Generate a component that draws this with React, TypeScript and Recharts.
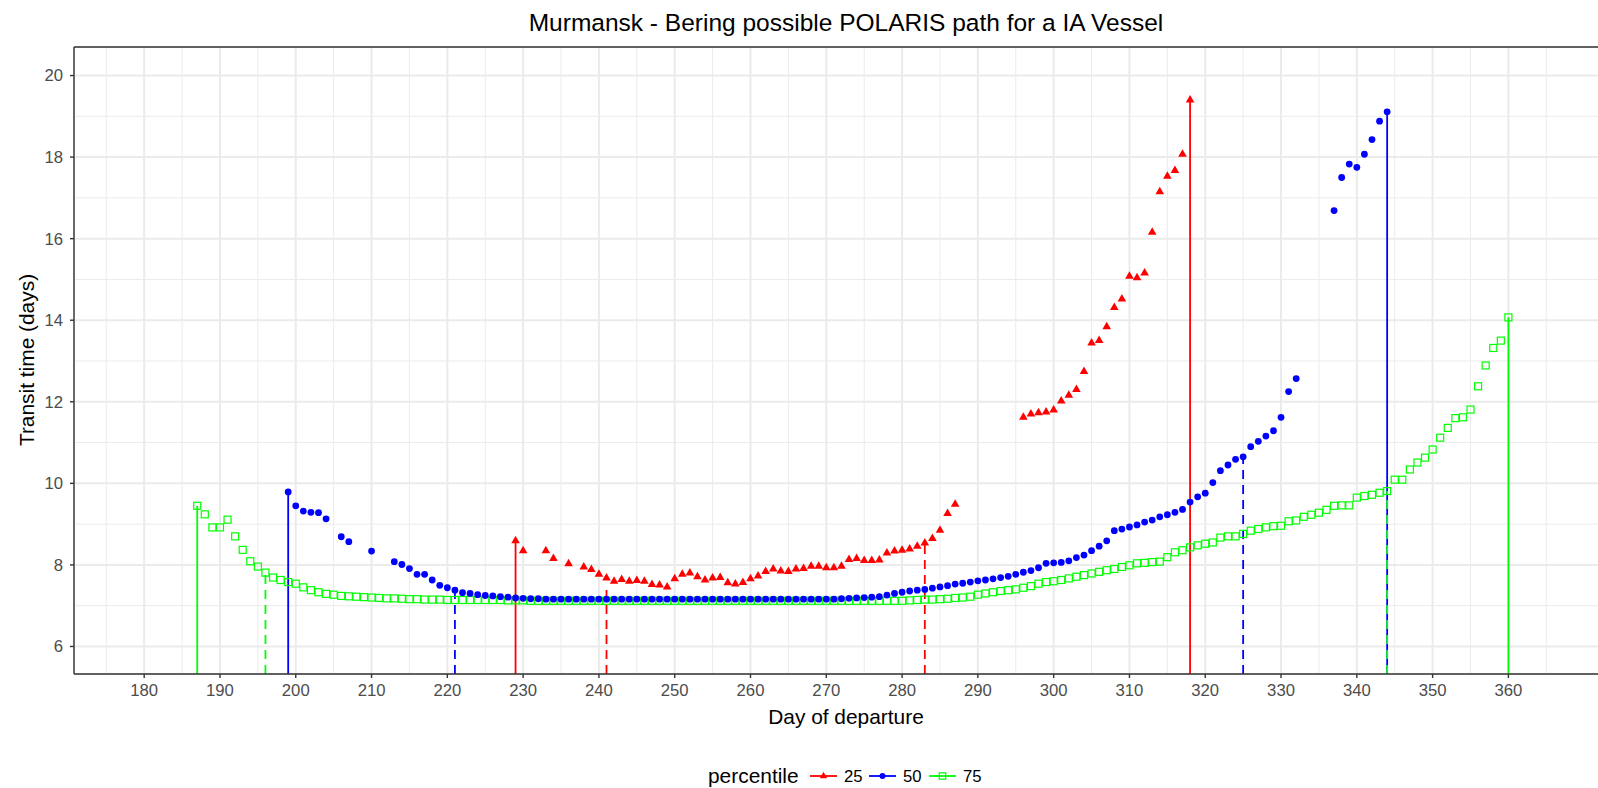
import React from 'react'
import { ScatterChart, Scatter, XAxis, YAxis, CartesianGrid, ReferenceLine } from 'recharts'

const FONT = '"Liberation Sans", Arial, sans-serif'

// axis ranges and breaks
const X_MIN = 170.74
const X_MAX = 374.46
const Y_MIN = 5.325
const Y_MAX = 20.7
const X_TICKS = [180, 190, 200, 210, 220, 230, 240, 250, 260, 270, 280, 290, 300, 310, 320, 330, 340, 350, 360]
const X_MINOR = [175, 185, 195, 205, 215, 225, 235, 245, 255, 265, 275, 285, 295, 305, 315, 325, 335, 345, 355, 365]
const Y_TICKS = [6, 8, 10, 12, 14, 16, 18, 20]
const Y_MINOR = [7, 9, 11, 13, 15, 17, 19]

// percentile 25 (red)
const P25_DAYS = [
  229, 230, 233, 234, 236, 238, 239, 240, 241, 242,
  243, 244, 245, 246, 247, 248, 249, 250, 251, 252,
  253, 254, 255, 256, 257, 258, 259, 260, 261, 262,
  263, 264, 265, 266, 267, 268, 269, 270, 271, 272,
  273, 274, 275, 276, 277, 278, 279, 280, 281, 282,
  283, 284, 285, 286, 287,
  296, 297, 298, 299, 300, 301, 302, 303, 304, 305,
  306, 307, 308, 309, 310, 311, 312, 313, 314, 315,
  316, 317, 318,
]
const P25_TIME = [
  8.59, 8.35, 8.35, 8.16, 8.03, 7.95, 7.89, 7.77, 7.68, 7.60,
  7.64, 7.60, 7.62, 7.60, 7.52, 7.51, 7.46, 7.66, 7.77, 7.80,
  7.71, 7.63, 7.68, 7.69, 7.56, 7.53, 7.57, 7.66, 7.73, 7.84,
  7.90, 7.85, 7.84, 7.90, 7.91, 7.97, 7.97, 7.93, 7.93, 7.97,
  8.13, 8.16, 8.11, 8.11, 8.12, 8.29, 8.34, 8.36, 8.39, 8.46,
  8.54, 8.65, 8.85, 9.26, 9.49,
  11.62, 11.70, 11.73, 11.75, 11.80, 12.02, 12.16, 12.30, 12.74, 13.44,
  13.50, 13.84, 14.31, 14.52, 15.08, 15.04, 15.16, 16.16, 17.15, 17.53,
  17.67, 18.07, 19.40,
]

// percentile 50 (blue)
const P50_DAYS = [
  199, 200, 201, 202, 203, 204, 206, 207, 210,
  213, 214, 215, 216, 217, 218, 219, 220, 221, 222,
  223, 224, 225, 226, 227, 228, 229, 230, 231, 232,
  233, 234, 235, 236, 237, 238, 239, 240, 241, 242,
  243, 244, 245, 246, 247, 248, 249, 250, 251, 252,
  253, 254, 255, 256, 257, 258, 259, 260, 261, 262,
  263, 264, 265, 266, 267, 268, 269, 270, 271, 272,
  273, 274, 275, 276, 277, 278, 279, 280, 281, 282,
  283, 284, 285, 286, 287, 288, 289, 290, 291, 292,
  293, 294, 295, 296, 297, 298, 299, 300, 301, 302,
  303, 304, 305, 306, 307, 308, 309, 310, 311, 312,
  313, 314, 315, 316, 317, 318, 319, 320, 321, 322,
  323, 324, 325, 326, 327, 328, 329, 330, 331, 332,
  337, 338, 339, 340, 341, 342, 343, 344,
]
const P50_TIME = [
  9.79, 9.45, 9.32, 9.29, 9.28, 9.13, 8.69, 8.57, 8.34,
  8.08, 8.01, 7.91, 7.77, 7.77, 7.63, 7.50, 7.44, 7.38, 7.32,
  7.30, 7.27, 7.25, 7.24, 7.22, 7.21, 7.19, 7.18, 7.17, 7.17,
  7.16, 7.16, 7.16, 7.16, 7.16, 7.16, 7.16, 7.16, 7.16, 7.16,
  7.16, 7.16, 7.16, 7.16, 7.16, 7.16, 7.16, 7.16, 7.16, 7.16,
  7.16, 7.16, 7.16, 7.16, 7.16, 7.16, 7.16, 7.16, 7.16, 7.16,
  7.16, 7.16, 7.16, 7.16, 7.16, 7.16, 7.16, 7.16, 7.16, 7.17,
  7.18, 7.19, 7.20, 7.21, 7.22, 7.26, 7.30, 7.33, 7.36, 7.38,
  7.40, 7.43, 7.46, 7.49, 7.53, 7.55, 7.58, 7.61, 7.63, 7.66,
  7.69, 7.72, 7.77, 7.82, 7.86, 7.93, 8.04, 8.05, 8.06, 8.10,
  8.18, 8.24, 8.35, 8.46, 8.59, 8.84, 8.88, 8.93, 8.98, 9.05,
  9.10, 9.18, 9.23, 9.29, 9.36, 9.54, 9.67, 9.76, 10.02, 10.31,
  10.45, 10.59, 10.65, 10.90, 11.03, 11.16, 11.29, 11.62, 12.25, 12.57,
  16.69, 17.50, 17.83, 17.75, 18.07, 18.43, 18.88, 19.11,
]

// percentile 75 (green)
const P75_DAYS = [
  187, 188, 189, 190, 191, 192, 193, 194, 195, 196,
  197, 198, 199, 200, 201, 202, 203, 204, 205, 206,
  207, 208, 209, 210, 211, 212, 213, 214, 215, 216,
  217, 218, 219, 220, 221, 222, 223, 224, 225, 226,
  227, 228, 229, 230, 231, 232, 233, 234, 235, 236,
  237, 238, 239, 240, 241, 242, 243, 244, 245, 246,
  247, 248, 249, 250, 251, 252, 253, 254, 255, 256,
  257, 258, 259, 260, 261, 262, 263, 264, 265, 266,
  267, 268, 269, 270, 271, 272, 273, 274, 275, 276,
  277, 278, 279, 280, 281, 282, 283, 284, 285, 286,
  287, 288, 289, 290, 291, 292, 293, 294, 295, 296,
  297, 298, 299, 300, 301, 302, 303, 304, 305, 306,
  307, 308, 309, 310, 311, 312, 313, 314, 315, 316,
  317, 318, 319, 320, 321, 322, 323, 324, 325, 326,
  327, 328, 329, 330, 331, 332, 333, 334, 335, 336,
  337, 338, 339, 340, 341, 342, 343, 344, 345, 346,
  347, 348, 349, 350, 351, 352, 353, 354, 355, 356,
  357, 358, 359, 360,
]
const P75_TIME = [
  9.45, 9.24, 8.92, 8.92, 9.11, 8.70, 8.37, 8.09, 7.96, 7.81,
  7.69, 7.63, 7.58, 7.54, 7.45, 7.38, 7.33, 7.29, 7.27, 7.24,
  7.23, 7.22, 7.21, 7.20, 7.19, 7.18, 7.18, 7.17, 7.16, 7.16,
  7.15, 7.15, 7.15, 7.14, 7.14, 7.14, 7.14, 7.14, 7.14, 7.14,
  7.14, 7.13, 7.13, 7.13, 7.12, 7.12, 7.12, 7.12, 7.12, 7.12,
  7.12, 7.12, 7.12, 7.12, 7.12, 7.12, 7.12, 7.12, 7.12, 7.12,
  7.12, 7.12, 7.12, 7.12, 7.12, 7.12, 7.12, 7.12, 7.12, 7.12,
  7.12, 7.12, 7.12, 7.12, 7.12, 7.12, 7.12, 7.12, 7.12, 7.12,
  7.12, 7.12, 7.12, 7.12, 7.12, 7.12, 7.12, 7.12, 7.12, 7.12,
  7.12, 7.12, 7.12, 7.12, 7.13, 7.14, 7.15, 7.15, 7.16, 7.17,
  7.19, 7.20, 7.22, 7.27, 7.30, 7.33, 7.36, 7.38, 7.40, 7.44,
  7.48, 7.54, 7.58, 7.60, 7.63, 7.67, 7.71, 7.75, 7.79, 7.83,
  7.87, 7.90, 7.95, 7.99, 8.04, 8.05, 8.07, 8.08, 8.19, 8.31,
  8.36, 8.43, 8.48, 8.52, 8.55, 8.67, 8.70, 8.70, 8.76, 8.84,
  8.88, 8.92, 8.95, 8.96, 9.07, 9.09, 9.18, 9.23, 9.28, 9.35,
  9.45, 9.46, 9.46, 9.65, 9.69, 9.72, 9.77, 9.81, 10.09, 10.09,
  10.34, 10.51, 10.63, 10.83, 11.12, 11.36, 11.60, 11.62, 11.81, 12.38,
  12.89, 13.32, 13.50, 14.07,
]

// vertical markers per percentile: day, height reached, dashed or not
const V25_DAYS = [229, 241, 283, 318]
const V25_TOP = [8.59, 7.42, 8.54, 19.4]
const V50_DAYS = [199, 221, 325, 344]
const V50_TOP = [9.79, 7.38, 10.65, 19.11]
const V75_DAYS = [187, 196, 344, 360]
const V75_TOP = [9.45, 7.81, 9.81, 14.07]
const V_DASHED = [false, true, true, false]

const RED = '#ff0000'
const BLUE = '#0000ff'
const GREEN = '#00ff00'

const toPoints = (days: number[], vals: number[]) => days.map((d, i) => ({ day: d, time: vals[i] }))

// recharts scales may be plain d3 functions or wrapped objects with map()
const applyScale = (axis: any, v: number) => {
  const s = axis?.scale
  if (typeof s === 'function') return s(v)
  if (s && typeof s.map === 'function') return s.map(v)
  return undefined
}

const TriangleMark = ({ cx, cy, k = 1 }: any) => (
  <path
    d={`M${cx},${cy - 5 * k}L${cx + 4.3 * k},${cy + 2.5 * k}L${cx - 4.3 * k},${cy + 2.5 * k}Z`}
    fill={RED}
  />
)
const CircleMark = ({ cx, cy, r = 3.4 }: any) => <circle cx={cx} cy={cy} r={r} fill={BLUE} />
const SquareMark = ({ cx, cy, s = 7 }: any) => (
  <rect x={cx - s / 2} y={cy - s / 2} width={s} height={s} fill="none" stroke={GREEN} strokeWidth={1.2} />
)

const vlines = (days: number[], tops: number[], color: string, key: string) =>
  days.map((d, i) => (
    <ReferenceLine
      key={key + d}
      segment={[{ x: d, y: Y_MIN }, { x: d, y: tops[i] }]}
      stroke={color}
      strokeWidth={1.8}
      strokeDasharray={V_DASHED[i] ? '9 6' : undefined}
      ifOverflow="visible"
    />
  ))

function Overlay() {
  const legendY = 776
  return (
    <svg width={1598} height={788} style={{ position: 'absolute', left: 0, top: 0, pointerEvents: 'none' }}>
      <text x={846} y={31} textAnchor="middle" fontFamily={FONT} fontSize={24.5} fill="#000">
        Murmansk - Bering possible POLARIS path for a IA Vessel
      </text>
      <text x={846} y={724} textAnchor="middle" fontFamily={FONT} fontSize={20.9} fill="#000">
        Day of departure
      </text>
      <text
        x={0}
        y={0}
        transform="translate(33.5 360) rotate(-90)"
        textAnchor="middle"
        fontFamily={FONT}
        fontSize={20.9}
        fill="#000"
      >
        Transit time (days)
      </text>
      <g fontFamily={FONT} fill="#000">
        <text x={708} y={legendY + 7} fontSize={20.9}>percentile</text>
        <line x1={810} x2={837} y1={legendY} y2={legendY} stroke={RED} strokeWidth={1.8} />
        <TriangleMark cx={823.5} cy={legendY} k={0.85} />
        <text x={844} y={legendY + 6} fontSize={16.7}>25</text>
        <line x1={869} x2={896} y1={legendY} y2={legendY} stroke={BLUE} strokeWidth={1.8} />
        <CircleMark cx={882.5} cy={legendY} r={3} />
        <text x={903} y={legendY + 6} fontSize={16.7}>50</text>
        <line x1={929} x2={956} y1={legendY} y2={legendY} stroke={GREEN} strokeWidth={1.8} />
        <SquareMark cx={942.5} cy={legendY} s={6.4} />
        <text x={963} y={legendY + 6} fontSize={16.7}>75</text>
      </g>
    </svg>
  )
}

export default function App() {
  const tick = { fill: '#4d4d4d', fontSize: 16.7, fontFamily: FONT }
  return (
    <div style={{ position: 'absolute', left: 0, top: 0, width: 1598, height: 788, overflow: 'hidden', background: '#fff' }}>
      <ScatterChart width={1618} height={788} margin={{ top: 47, right: 0, bottom: 0, left: 0 }}>
        <CartesianGrid
          stroke="#ebebeb"
          strokeWidth={1}
          verticalCoordinatesGenerator={({ xAxis }: any) =>
            X_MINOR.map((v) => applyScale(xAxis, v)).filter((p) => p != null)
          }
          horizontalCoordinatesGenerator={({ yAxis }: any) =>
            Y_MINOR.map((v) => applyScale(yAxis, v)).filter((p) => p != null)
          }
        />
        <CartesianGrid stroke="#ebebeb" strokeWidth={2} />
        <XAxis
          type="number"
          dataKey="day"
          domain={[X_MIN, X_MAX]}
          ticks={X_TICKS}
          interval={0}
          allowDataOverflow
          height={114}
          tickSize={4}
          tickMargin={6}
          tick={tick}
          axisLine={{ stroke: '#333', strokeWidth: 1.4 }}
          tickLine={{ stroke: '#333', strokeWidth: 1.4 }}
        />
        <YAxis
          type="number"
          dataKey="time"
          domain={[Y_MIN, Y_MAX]}
          ticks={Y_TICKS}
          interval={0}
          allowDataOverflow
          width={74}
          tickSize={4}
          tickMargin={7}
          tick={tick}
          axisLine={{ stroke: '#333', strokeWidth: 1.4 }}
          tickLine={{ stroke: '#333', strokeWidth: 1.4 }}
        />
        <ReferenceLine y={Y_MAX} stroke="#333" strokeWidth={1.4} />
        {vlines(V25_DAYS, V25_TOP, RED, 'r')}
        {vlines(V50_DAYS, V50_TOP, BLUE, 'b')}
        {vlines(V75_DAYS, V75_TOP, GREEN, 'g')}
        <Scatter name="75" data={toPoints(P75_DAYS, P75_TIME)} shape={(p: any) => <SquareMark cx={p.cx} cy={p.cy} />} isAnimationActive={false} />
        <Scatter name="50" data={toPoints(P50_DAYS, P50_TIME)} shape={(p: any) => <CircleMark cx={p.cx} cy={p.cy} />} isAnimationActive={false} />
        <Scatter name="25" data={toPoints(P25_DAYS, P25_TIME)} shape={(p: any) => <TriangleMark cx={p.cx} cy={p.cy} />} isAnimationActive={false} />
      </ScatterChart>
      <Overlay />
    </div>
  )
}
